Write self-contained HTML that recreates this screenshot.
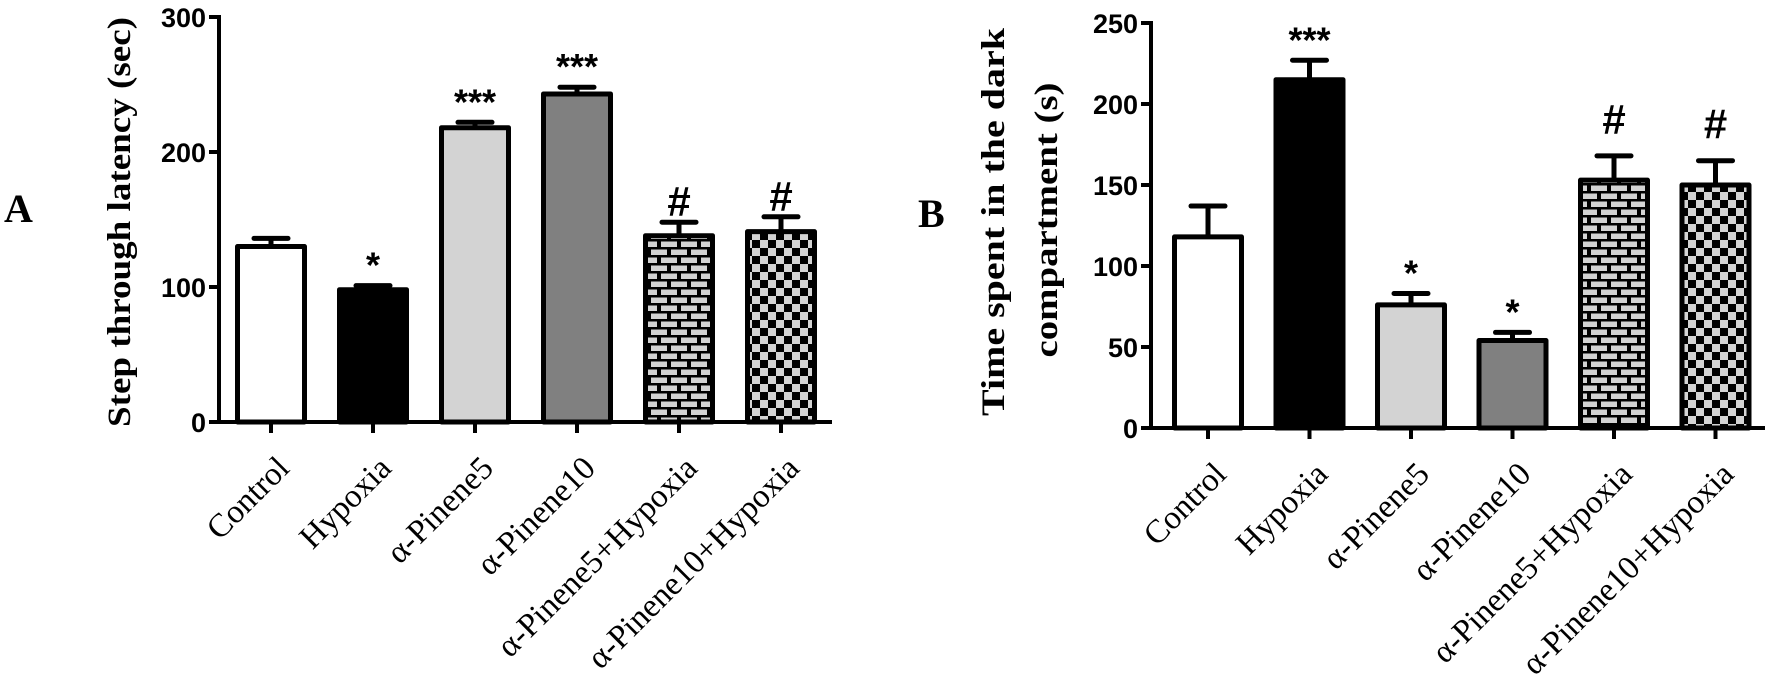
<!DOCTYPE html>
<html><head><meta charset="utf-8"><style>
html,body{margin:0;padding:0;background:#fff;}
svg{display:block;}
.tick{font-family:"Liberation Sans",sans-serif;font-weight:bold;font-size:27px;fill:#000;}
.cat{font-family:"Liberation Serif",serif;font-size:33px;fill:#000;}
.ttl{font-family:"Liberation Serif",serif;font-weight:bold;font-size:33px;fill:#000;}
.sig{font-family:"Liberation Sans",sans-serif;font-weight:bold;fill:#000;}
</style></head><body>
<svg id="fig" width="1769" height="680" viewBox="0 0 1769 680" xmlns="http://www.w3.org/2000/svg">
<defs>
<pattern id="brick" patternUnits="userSpaceOnUse" width="20" height="16">
<rect width="20" height="16" fill="#000"/>
<rect x="1" y="1.5" width="16" height="5.5" fill="#d3d3d3"/>
<rect x="11" y="9.5" width="16" height="5.5" fill="#d3d3d3"/>
<rect x="-9" y="9.5" width="16" height="5.5" fill="#d3d3d3"/>
</pattern>
<pattern id="checker" patternUnits="userSpaceOnUse" width="16" height="16">
<rect width="16" height="16" fill="#d3d3d3"/>
<rect x="0" y="0" width="8" height="8" fill="#000"/>
<rect x="8" y="8" width="8" height="8" fill="#000"/>
</pattern>
</defs>
<text x="4" y="222" style="font-family:'Liberation Serif',serif;font-weight:bold;font-size:40px">A</text>
<text x="918" y="227" style="font-family:'Liberation Serif',serif;font-weight:bold;font-size:40px">B</text>
<text class="ttl" transform="translate(130,222) rotate(-90)" text-anchor="middle" textLength="410" lengthAdjust="spacingAndGlyphs">Step through latency (sec)</text>
<text class="ttl" transform="translate(1004,222) rotate(-90)" text-anchor="middle" textLength="388" lengthAdjust="spacingAndGlyphs">Time spent in the dark</text>
<text class="ttl" transform="translate(1057,220) rotate(-90)" text-anchor="middle" textLength="275" lengthAdjust="spacingAndGlyphs">compartment (s)</text>
</svg>
<script>
const categories = ["Control","Hypoxia","α-Pinene5","α-Pinene10","α-Pinene5+Hypoxia","α-Pinene10+Hypoxia"];
const latencyValues = [130, 98, 218, 243, 138, 141];
const latencyErrors = [6, 3, 4, 5, 10, 11];
const latencySig = ["", "*", "***", "***", "#", "#"];
const latencyTicks = [0, 100, 200, 300];
const darkValues = [118, 215, 76, 54, 153, 150];
const darkErrors = [19, 12, 7, 5, 15, 15];
const darkSig = ["", "***", "*", "*", "#", "#"];
const darkTicks = [0, 50, 100, 150, 200, 250];
const fills = ["#ffffff","#000000","#d3d3d3","#808080","url(#brick)","url(#checker)"];

const svg = document.getElementById('fig');
const NS = 'http://www.w3.org/2000/svg';
function mk(tag, attrs, parent){
  const e = document.createElementNS(NS, tag);
  for (const k in attrs) e.setAttribute(k, attrs[k]);
  (parent||svg).appendChild(e);
  return e;
}

function drawPanel(p, values, errors, sig, ticks){
  const g = mk('g', {});
  
  
  const y = v => p.zeroY - v * p.k;
  const xLeft = i => p.firstLeft + i * p.step;
  const ya = mk('line', {x1:p.axisX, y1:y(ticks[ticks.length-1])-2, x2:p.axisX, y2:p.zeroY+2, stroke:'#000','stroke-width':4}, g);
  
  
  ticks.forEach(t => {
    const tl = mk('line', {x1:p.axisX-10, y1:y(t), x2:p.axisX, y2:y(t), stroke:'#000','stroke-width':4}, g);
    
    
    const tx = mk('text', {x:p.axisX-13, y:y(t)+10, 'text-anchor':'end', class:'tick'}, g);
    tx.textContent = t;
    
    
  });
  values.forEach((v, i) => {
    const L = xLeft(i), cx = L + p.bw/2;
    const top = y(v), etop = y(v + errors[i]);
    const el = mk('line', {x1:cx, y1:top, x2:cx, y2:etop, stroke:'#000','stroke-width':5}, g);
    
    
    const cap = mk('line', {x1:cx-17, y1:etop, x2:cx+17, y2:etop, stroke:'#000','stroke-width':5,'stroke-linecap':'round'}, g);
    
    
    const r = mk('rect', {x:L+2.5, y:top, width:p.bw-5, height:p.zeroY-top, fill:fills[i], stroke:'#000','stroke-width':5,'stroke-linejoin':'round'}, g);
    
    
    if (sig[i]) {
      const isHash = sig[i] === '#';
      const s = mk('text', {x:cx, y: isHash ? etop - p.hashGap : etop - 8, 'text-anchor':'middle', class:'sig', 'font-size': isHash ? 42 : 36}, g);
      s.textContent = sig[i];
      
      
    }
    const tk = mk('line', {x1:cx, y1:p.zeroY, x2:cx, y2:p.zeroY+11, stroke:'#000','stroke-width':4}, g);
    
    
    const lb = mk('text', {class:'cat', 'text-anchor':'end', transform:'translate(' + (cx+20) + ',' + (p.zeroY+48) + ') rotate(-45)'}, g);
    lb.textContent = categories[i];
    
    
  });
  const xa = mk('line', {x1:p.axisX-2, y1:p.zeroY, x2:p.axisEnd, y2:p.zeroY, stroke:'#000','stroke-width':4}, g);
  
  
}

drawPanel({name:'panel-a-chart', axisX:219, zeroY:422, k:1.35, firstLeft:235, step:102, bw:72, axisEnd:832, hashGap:6},
  latencyValues, latencyErrors, latencySig, latencyTicks);
drawPanel({name:'panel-b-chart', axisX:1151, zeroY:428, k:1.62, firstLeft:1172, step:101.5, bw:72, axisEnd:1765, hashGap:22},
  darkValues, darkErrors, darkSig, darkTicks);
</script>
</body></html>
